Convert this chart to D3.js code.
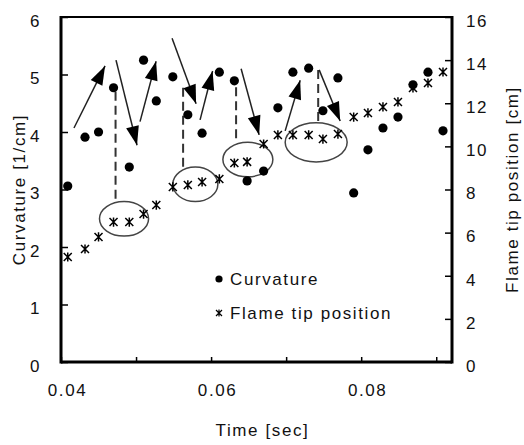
<!DOCTYPE html>
<html lang="en">
<head>
<meta charset="UTF-8">
<script src="https://d3js.org/d3.v7.min.js"></script>
<style>
  body { margin: 0; background: #fff; }
  text { font-family: "Liberation Sans", Arial, sans-serif; fill: #111; }
</style>
</head>
<body>
<div id="chart"></div>
<script>
// time [sec], shared by both series
const time = [0.0409, 0.0432, 0.0450, 0.0470, 0.0491, 0.0510, 0.0527, 0.0549, 0.0569, 0.0588,
              0.0611, 0.0631, 0.0648, 0.0670, 0.0689, 0.0709, 0.0730, 0.0749, 0.0769, 0.0790,
              0.0809, 0.0829, 0.0849, 0.0869, 0.0889, 0.0909];
// curvature [1/cm] (left axis)
const curvature = [3.06, 3.91, 4.00, 4.77, 3.39, 5.25, 4.54, 4.96, 4.30, 3.98,
                   5.04, 4.89, 3.15, 3.32, 4.42, 5.04, 5.11, 4.37, 4.94, 2.94,
                   3.69, 4.07, 4.26, 4.82, 5.04, 4.02];
// flame tip position [cm] (right axis)
const flameTip = [4.87, 5.24, 5.80, 6.49, 6.49, 6.86, 7.28, 8.12, 8.21, 8.35,
                  8.49, 9.23, 9.28, 10.11, 10.53, 10.53, 10.53, 10.34, 10.57, 11.36,
                  11.55, 11.83, 12.06, 12.71, 12.94, 13.45];

const xTicks = [0.04, 0.05, 0.06, 0.07, 0.08, 0.09];
const xTickLabels = {0.04: "0.04", 0.06: "0.06", 0.08: "0.08"};
const leftTicks = [0, 1, 2, 3, 4, 5, 6];
const rightTicks = [0, 2, 4, 6, 8, 10, 12, 14, 16];

// annotations, in (time, curvature) units
const ellipses = [ // cx, cy, rx, ry
  [0.0484, 2.49, 0.00327, 0.30],
  [0.0579, 3.09, 0.00300, 0.30],
  [0.0649, 3.52, 0.00333, 0.30],
  [0.0740, 3.82, 0.00413, 0.34]
];
const dashes = [ // t, from, to
  [0.04727, 4.70, 2.78],
  [0.05627, 4.77, 3.39],
  [0.06333, 4.78, 3.84],
  [0.07427, 5.08, 4.16]
];
const arrows = [ // t0, c0 -> t1, c1
  [0.04173, 4.07, 0.04587, 5.15],
  [0.04733, 5.25, 0.05013, 3.77],
  [0.05053, 4.18, 0.05267, 5.23],
  [0.05480, 5.63, 0.05800, 4.49],
  [0.05853, 4.21, 0.06020, 5.06],
  [0.06400, 5.10, 0.06640, 3.95],
  [0.06987, 4.02, 0.07187, 4.90],
  [0.07440, 5.08, 0.07720, 4.19]
];

const width = 524, height = 445;
const margin = {top: 17, right: 72, bottom: 83, left: 61};
const x0 = margin.left, x1 = width - margin.right;
const y0 = height - margin.bottom, y1 = margin.top;

const svg = d3.select("#chart").append("svg")
  .attr("width", width).attr("height", height);

const x = d3.scaleLinear().domain([0.04, 0.0921]).range([x0, x1]);
const yL = d3.scaleLinear().domain([0, 6]).range([y0, y1]);
const yR = d3.scaleLinear().domain([0, 16]).range([y0, y1]);

const fontSize = 17, spacing = 1.6;

// axes
const gx = svg.append("g").attr("transform", `translate(0,${y0})`)
  .call(d3.axisBottom(x).tickValues(xTicks).tickSize(-5).tickSizeOuter(0).tickPadding(22)
    .tickFormat(d => xTickLabels[d.toFixed(2)] || ""));
const gl = svg.append("g").attr("transform", `translate(${x0},0)`)
  .call(d3.axisLeft(yL).tickValues(leftTicks).tickSize(-7).tickSizeOuter(0).tickPadding(20)
    .tickFormat(d3.format("d")));
const gr = svg.append("g").attr("transform", `translate(${x1},0)`)
  .call(d3.axisRight(yR).tickValues(rightTicks).tickSize(-7).tickSizeOuter(0).tickPadding(14)
    .tickFormat(d3.format("d")));

[gx, gl, gr].forEach(g => {
  g.select(".domain").remove();
  g.selectAll(".tick line").attr("stroke", "#000").attr("stroke-width", 1.5);
  g.selectAll(".tick text").attr("font-family", "Liberation Sans, Arial, sans-serif")
    .attr("font-size", fontSize).attr("letter-spacing", spacing).attr("fill", "#111");
});
gx.selectAll(".tick text").attr("dx", 6);
gl.selectAll(".tick text").attr("dy", "0.55em");
gr.selectAll(".tick text").attr("dy", "0.55em");

// frame
svg.append("line").attr("x1", x0).attr("x2", x1).attr("y1", y1).attr("y2", y1)
  .attr("stroke", "#000").attr("stroke-width", 2);
svg.append("line").attr("x1", x0).attr("x2", x0).attr("y1", y1 - 1).attr("y2", y0 + 1.5)
  .attr("stroke", "#000").attr("stroke-width", 3);
svg.append("line").attr("x1", x1).attr("x2", x1).attr("y1", y1 - 1).attr("y2", y0 + 1.5)
  .attr("stroke", "#000").attr("stroke-width", 3);
svg.append("line").attr("x1", x0).attr("x2", x1).attr("y1", y0).attr("y2", y0)
  .attr("stroke", "#000").attr("stroke-width", 3);

// axis titles
svg.append("text").attr("x", (x0 + x1) / 2 + 6).attr("y", 436)
  .attr("text-anchor", "middle").attr("font-size", fontSize).attr("letter-spacing", spacing)
  .text("Time [sec]");
svg.append("text").attr("transform", `translate(25,${(y0 + y1) / 2}) rotate(-90)`)
  .attr("text-anchor", "middle").attr("font-size", fontSize).attr("letter-spacing", spacing)
  .text("Curvature [1/cm]");
svg.append("text").attr("transform", `translate(518,${(y0 + y1) / 2}) rotate(-90)`)
  .attr("text-anchor", "middle").attr("font-size", fontSize).attr("letter-spacing", spacing)
  .text("Flame tip position [cm]");

// annotations
const ann = svg.append("g");
ann.selectAll("ellipse").data(ellipses).join("ellipse")
  .attr("cx", d => x(d[0])).attr("cy", d => yL(d[1]))
  .attr("rx", d => x(d[0] + d[2]) - x(d[0])).attr("ry", d => yL(d[1]) - yL(d[1] + d[3]))
  .attr("fill", "none").attr("stroke", "#444").attr("stroke-width", 1.5);
ann.selectAll("line.dash").data(dashes).join("line").attr("class", "dash")
  .attr("x1", d => x(d[0])).attr("x2", d => x(d[0]))
  .attr("y1", d => yL(d[1])).attr("y2", d => yL(d[2]))
  .attr("stroke", "#333").attr("stroke-width", 2).attr("stroke-dasharray", "9,5");

// arrows: shaft plus a long filled head
const headLen = 19, headHalf = 6.5;
ann.selectAll("line.arrow").data(arrows).join("line").attr("class", "arrow")
  .attr("x1", d => x(d[0])).attr("y1", d => yL(d[1]))
  .attr("x2", d => x(d[2])).attr("y2", d => yL(d[3]))
  .attr("stroke", "#222").attr("stroke-width", 1.5);
ann.selectAll("path.head").data(arrows).join("path").attr("class", "head")
  .attr("d", d => {
    const ax = x(d[0]), ay = yL(d[1]), bx = x(d[2]), by = yL(d[3]);
    const len = Math.hypot(bx - ax, by - ay), ux = (bx - ax) / len, uy = (by - ay) / len;
    const cx = bx - ux * headLen, cy = by - uy * headLen;
    return `M${bx},${by}L${cx - uy * headHalf},${cy + ux * headHalf}L${cx + uy * headHalf},${cy - ux * headHalf}Z`;
  })
  .attr("fill", "#000");

// series
const asterisk = (s) => `M${-s},${-s}L${s},${s}M${-s},${s}L${s},${-s}M0,${-s * 1.15}L0,${s * 1.15}`;
svg.append("g").selectAll("path").data(time).join("path")
  .attr("transform", (d, i) => `translate(${x(d)},${yR(flameTip[i])})`)
  .attr("d", asterisk(4)).attr("fill", "none").attr("stroke", "#000").attr("stroke-width", 1.5);
svg.append("g").selectAll("circle").data(time).join("circle")
  .attr("cx", d => x(d)).attr("cy", (d, i) => yL(curvature[i]))
  .attr("r", 4.6).attr("fill", "#000");

// legend
const lg = svg.append("g");
lg.append("circle").attr("cx", 219).attr("cy", 279).attr("r", 3.6).attr("fill", "#000");
lg.append("text").attr("x", 230).attr("y", 285).attr("font-size", fontSize)
  .attr("letter-spacing", spacing).text("Curvature");
lg.append("path").attr("transform", "translate(219,313)").attr("d", asterisk(3))
  .attr("fill", "none").attr("stroke", "#000").attr("stroke-width", 1.2);
lg.append("text").attr("x", 230).attr("y", 319).attr("font-size", fontSize)
  .attr("letter-spacing", spacing).text("Flame tip position");
</script>
</body>
</html>
